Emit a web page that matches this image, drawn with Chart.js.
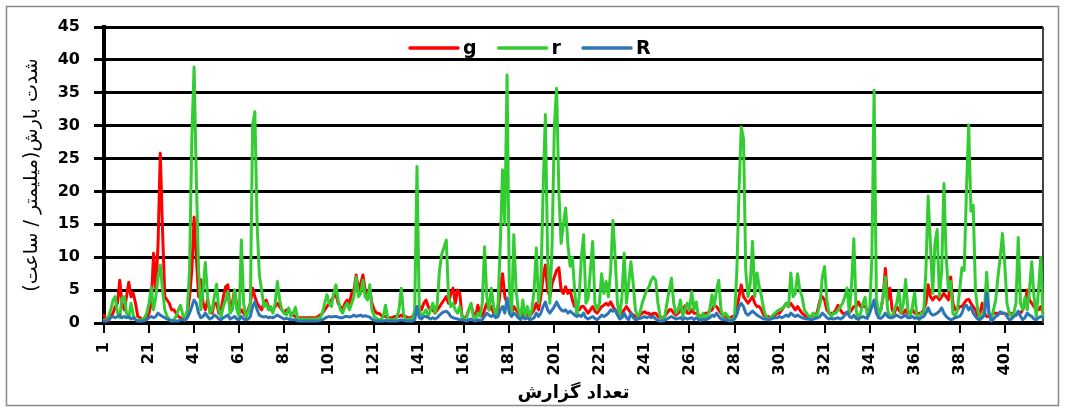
<!DOCTYPE html>
<html>
<head>
<meta charset="utf-8">
<script src="https://cdn.jsdelivr.net/npm/chart.js@4.4.1/dist/chart.umd.min.js"></script>
<style>
  html, body { margin: 0; padding: 0; background: #fff; }
</style>
</head>
<body>
<canvas id="rainChart" width="1065" height="410"></canvas>
<script>
// report numbers on the x axis (1..418), a label every 20th report
const reports = Array.from({ length: 418 }, (_, i) => String(i + 1));
const labelStep = 20;

// rainfall intensity (mm / h)
const gValues = [
  1.2,0.5,0.3,1.0,1.5,2.5,3.0,6.5,3.0,2.0, 4.0,6.2,4.0,4.5,3.0,1.0,0.8,0.5,0.5,0.6,
  1.5,3.0,10.6,5.0,12.0,25.8,14.0,4.0,3.5,3.0, 2.0,2.0,1.5,1.0,0.8,0.5,0.8,1.5,4.0,8.0,
  16.1,10.0,4.0,6.6,3.0,2.0,3.5,2.0,1.5,3.0, 3.0,1.5,2.0,4.0,5.5,5.8,2.0,3.0,5.0,2.5,
  1.5,2.0,1.5,1.0,2.0,3.0,5.3,4.0,3.0,2.5, 2.0,3.0,3.5,2.5,2.0,2.0,2.5,3.0,2.5,2.0,
  1.5,2.0,1.8,1.5,1.2,1.0,0.8,0.8,0.8,0.8, 0.8,0.8,0.8,0.8,0.8,1.0,1.2,1.5,2.0,2.5,
  3.0,3.5,4.0,4.3,3.0,2.5,2.0,3.0,3.5,3.0, 4.5,5.0,7.3,5.0,6.0,7.3,5.0,4.0,5.0,3.0,
  2.0,1.5,1.5,1.2,1.0,1.0,0.8,0.8,0.8,1.0, 1.0,1.0,1.2,1.0,1.0,0.8,0.8,1.0,1.5,2.0,
  2.5,2.0,3.0,3.5,2.5,2.0,2.0,1.5,2.0,2.5, 3.0,3.5,4.0,3.0,4.5,5.3,3.0,5.0,4.5,1.0,
  0.8,1.0,2.0,2.7,1.5,1.0,2.7,1.5,1.0,2.0, 3.0,2.0,2.5,1.5,1.0,2.0,5.0,7.5,4.0,3.0,
  2.0,1.5,2.5,2.0,1.5,1.0,1.5,1.0,1.5,1.0, 1.5,2.0,3.0,2.0,4.0,7.0,8.8,5.0,4.0,6.0,
  7.0,8.0,8.4,5.0,4.5,5.5,4.5,5.0,3.5,2.5, 2.5,2.0,2.5,2.5,2.0,1.5,2.0,2.5,1.8,1.5,
  2.0,2.5,2.7,3.0,2.7,3.2,2.5,2.0,1.5,1.2, 1.5,2.0,2.5,2.0,1.5,1.2,1.0,1.0,1.2,1.5,
  1.7,1.5,1.5,1.2,1.5,1.5,1.0,0.8,0.8,1.0, 1.5,2.0,2.0,1.5,1.2,1.5,2.0,1.5,2.6,1.5,
  1.5,2.0,1.5,1.5,1.2,1.0,1.2,1.5,1.5,1.8, 2.0,2.7,2.5,2.0,1.5,1.0,1.0,0.8,0.8,1.0,
  1.0,2.0,4.0,5.8,4.0,3.5,3.0,3.5,4.0,3.0, 2.5,2.5,2.0,1.2,1.0,1.0,0.8,1.0,1.2,1.5,
  1.5,2.0,2.5,3.0,2.5,3.0,2.5,2.0,2.5,2.0, 1.5,1.2,1.0,1.0,1.0,1.2,1.0,2.0,3.5,4.0,
  3.5,2.0,1.5,1.5,1.5,2.0,2.7,2.0,1.5,1.5, 1.5,1.5,2.0,2.5,2.5,3.2,2.5,2.5,2.5,2.0,
  2.0,2.5,3.0,2.0,2.0,2.0,4.0,8.3,3.5,5.3, 2.0,1.5,2.5,2.0,1.5,1.5,2.0,1.5,1.5,2.0,
  1.5,1.5,1.5,1.5,2.0,3.0,5.8,4.0,3.5,4.0, 4.0,3.5,4.0,4.5,4.0,3.5,7.0,3.0,2.0,2.0,
  2.5,2.5,3.0,3.5,3.6,3.0,2.5,2.0,1.0,1.5, 3.0,1.5,1.0,1.0,1.2,1.5,1.5,1.5,1.5,1.5,
  1.5,1.2,1.5,1.5,1.2,1.2,1.5,1.5,2.0,3.0, 5.0,3.5,3.0,2.5,2.0,2.0,2.5,1.5
];

const rValues = [
  0.5,0.3,1.0,2.0,3.5,4.0,1.5,0.8,3.8,4.0, 1.5,0.8,3.0,1.2,0.5,0.3,0.5,0.5,0.8,1.5,
  3.0,5.4,2.0,4.0,7.0,8.8,5.0,2.0,1.0,0.5, 0.3,0.5,1.0,2.0,2.7,1.2,0.8,2.0,8.0,28.0,
  38.9,22.0,8.0,2.0,5.0,9.2,4.0,1.5,2.0,4.0, 5.9,2.0,1.0,2.5,3.5,4.8,1.5,2.0,5.0,2.0,
  1.0,12.6,3.0,1.0,1.5,3.0,30.0,32.1,15.0,7.3, 5.0,2.5,3.0,2.0,2.5,1.5,3.0,6.3,3.5,2.0,
  1.5,1.2,2.3,1.0,1.5,2.4,0.7,0.6,0.6,0.6, 0.6,0.6,0.6,0.6,0.6,0.7,0.8,1.5,3.0,4.3,
  3.0,2.5,4.5,5.8,3.5,2.0,1.5,2.5,3.0,2.0, 3.0,4.0,7.0,4.0,4.5,6.5,4.0,3.5,5.8,2.0,
  1.0,0.7,0.5,0.5,1.0,2.7,0.8,0.5,0.5,0.5, 0.8,2.0,5.3,1.5,0.5,0.5,0.6,0.5,2.0,23.8,
  2.0,1.0,1.5,2.0,1.0,2.0,3.0,1.5,3.0,8.0, 10.5,11.5,12.6,4.0,2.5,3.0,2.0,1.5,2.5,1.0,
  0.5,0.8,2.0,3.0,1.0,0.7,1.5,1.0,3.0,11.6, 4.0,2.0,5.3,2.5,1.0,3.0,12.0,23.3,15.0,37.7,
  5.0,1.5,13.4,5.0,2.0,1.0,3.5,1.0,2.5,1.0, 2.0,5.0,11.4,3.0,6.0,20.0,31.7,10.0,3.0,12.0,
  30.0,35.7,20.0,12.1,15.0,17.5,12.0,8.6,10.0,5.0, 1.0,4.0,10.0,13.4,3.0,3.7,8.0,12.4,3.0,2.0,
  3.0,7.5,4.5,6.3,4.0,8.0,15.6,10.0,3.0,1.0, 4.0,10.6,3.0,6.0,9.3,6.0,2.0,1.0,1.5,3.0,
  4.0,5.0,5.5,6.5,7.0,6.5,3.0,1.0,0.5,1.0, 3.0,5.0,6.8,3.0,1.5,2.0,3.5,1.0,2.0,3.0,
  2.0,4.8,2.0,3.2,1.0,0.5,1.5,0.8,1.0,2.0, 4.3,2.5,5.0,6.5,2.0,1.0,1.5,1.0,0.5,0.3,
  1.0,7.5,20.0,29.8,28.0,8.0,4.0,6.0,12.4,4.0, 7.6,5.5,4.0,2.0,1.0,0.5,0.8,1.2,1.5,1.8,
  2.0,2.2,2.5,3.0,2.5,7.6,4.0,4.5,7.5,5.0, 4.0,2.0,1.5,1.0,1.0,1.5,0.8,1.5,3.0,7.0,
  8.6,3.5,1.5,1.0,1.5,1.5,2.0,2.5,3.0,4.0, 5.3,1.5,6.0,12.8,2.0,0.5,1.5,3.0,3.9,1.0,
  1.5,10.0,35.4,4.0,1.0,2.0,4.0,7.0,2.0,1.0, 1.0,2.0,3.0,4.9,1.5,3.0,6.6,2.0,1.0,2.5,
  4.6,1.0,0.5,1.5,1.5,8.0,19.3,12.0,4.5,12.0, 14.2,4.0,8.0,21.2,10.0,5.0,6.3,1.5,1.0,2.0,
  5.0,8.4,8.0,20.0,30.1,17.0,17.9,5.0,2.0,0.8, 1.0,2.0,7.7,1.5,0.5,2.0,3.5,7.0,10.0,13.6,
  9.0,3.0,1.5,1.0,1.5,3.0,13.0,3.0,2.0,3.9, 2.0,5.0,9.3,4.0,1.0,5.0,10.0,1.0
];

const RValues = [
  0.3,0.3,0.5,0.8,1.0,0.8,1.0,1.2,0.8,1.0, 0.8,1.0,0.6,0.8,0.5,0.3,0.3,0.3,0.4,0.5,
  0.8,1.0,0.8,1.0,1.5,1.2,1.0,0.8,0.6,0.5, 0.4,0.3,0.3,0.3,0.5,0.5,0.4,0.8,1.5,2.5,
  3.5,3.0,1.5,0.8,1.0,1.5,1.0,0.6,0.8,1.2, 1.0,0.6,0.5,0.8,1.0,1.2,0.6,0.8,1.0,0.6,
  0.5,1.0,0.6,0.5,0.6,1.0,2.5,3.2,2.0,1.2, 1.0,0.9,1.0,0.8,0.9,0.8,1.0,1.2,1.0,0.8,
  0.6,0.7,0.6,0.5,0.5,0.5,0.3,0.3,0.3,0.3, 0.3,0.3,0.3,0.3,0.3,0.3,0.4,0.5,0.7,0.9,
  1.0,0.9,1.0,1.0,0.9,0.8,0.8,1.0,1.0,0.9, 1.0,1.2,1.0,1.1,1.2,1.0,1.1,1.0,0.9,0.6,
  0.4,0.3,0.3,0.3,0.3,0.4,0.3,0.3,0.3,0.3, 0.3,0.4,0.5,0.4,0.3,0.3,0.3,0.3,0.5,2.5,
  0.8,0.6,1.0,1.0,0.8,0.6,0.8,0.6,0.8,1.2, 1.5,1.7,1.8,1.5,1.0,0.8,0.7,0.6,0.5,0.5,
  0.4,0.3,0.5,0.6,0.4,0.3,0.5,0.4,0.5,1.0, 1.5,1.2,1.0,1.2,0.8,1.0,2.0,2.5,1.5,3.8,
  1.5,1.0,1.5,1.2,0.8,0.5,1.0,0.6,0.8,0.5, 0.6,0.8,1.5,1.0,1.5,2.5,3.2,2.0,1.5,2.0,
  2.5,3.2,2.5,2.0,1.8,2.0,1.5,1.8,1.5,1.2, 1.0,1.2,1.0,1.5,0.8,0.6,0.8,1.0,0.7,0.5,
  0.8,1.2,1.0,1.2,1.5,2.0,1.8,2.0,1.2,0.6, 0.8,1.5,0.8,0.5,1.5,0.8,0.5,0.6,0.7,0.8,
  1.0,0.8,1.0,0.8,1.0,0.6,0.4,0.3,0.3,0.4, 0.6,0.8,1.0,0.8,0.6,0.7,0.8,0.5,0.8,0.6,
  0.7,0.8,0.5,0.8,0.5,0.4,0.6,0.5,0.6,0.8, 1.2,1.0,1.5,1.0,0.6,0.5,0.5,0.4,0.3,0.4,
  0.6,1.2,2.5,3.0,2.5,1.5,1.2,1.5,1.8,1.5, 1.2,1.0,0.8,0.6,0.6,0.5,0.6,0.7,0.8,0.8,
  1.0,0.8,1.0,1.2,1.0,1.5,1.2,1.0,1.2,1.0, 0.8,0.7,0.6,0.6,0.5,0.6,0.7,0.8,1.0,1.5,
  1.2,0.8,0.6,0.7,0.6,0.7,0.8,0.6,0.8,1.2, 1.7,1.0,0.8,1.2,0.7,0.6,0.8,1.0,0.8,0.7,
  1.5,2.5,3.5,1.5,0.8,0.7,1.0,1.5,1.0,0.8, 0.8,1.0,1.2,1.0,0.8,1.0,1.2,0.8,0.8,1.0,
  0.7,0.8,0.6,0.8,1.0,1.5,2.3,1.5,1.2,1.3, 1.5,1.8,2.3,1.5,1.0,0.7,0.5,0.6,0.8,0.9,
  1.0,1.5,2.5,2.7,2.0,2.5,1.5,1.0,0.6,0.5, 0.8,1.2,4.6,1.5,0.3,0.6,1.0,1.2,1.7,1.5,
  1.5,1.0,0.5,0.6,1.0,1.2,1.8,1.0,0.5,0.8, 1.5,1.2,1.0,0.6,0.5,0.8,1.0,0.8
];

const yTicks = { min: 0, max: 45, step: 5 };

Chart.defaults.font.family = "'DejaVu Sans', sans-serif";
Chart.defaults.color = '#000';

// white background, grey outer frame and the right edge of the plot box
const framePlugin = {
  id: 'frame',
  beforeDraw(chart) {
    const ctx = chart.ctx;
    ctx.save();
    ctx.fillStyle = '#fff';
    ctx.fillRect(0, 0, chart.width, chart.height);
    ctx.strokeStyle = '#8a8a8a';
    ctx.lineWidth = 1.5;
    ctx.strokeRect(6.5, 6.5, chart.width - 13, chart.height - 11);
    ctx.restore();
  },
  beforeDatasetsDraw(chart) {
    const { ctx, chartArea } = chart;
    ctx.save();
    ctx.strokeStyle = '#444';
    ctx.lineWidth = 2;
    ctx.beginPath();
    ctx.moveTo(chartArea.right, chartArea.top);
    ctx.lineTo(chartArea.right, chartArea.bottom);
    ctx.stroke();
    ctx.restore();
  }
};

// x labels turned a quarter turn, reading upward, top end near the axis
const xLabelPlugin = {
  id: 'xLabels',
  afterDraw(chart) {
    const { ctx, chartArea } = chart;
    const xScale = chart.scales.x;
    const top = chartArea.bottom + 19;
    ctx.save();
    ctx.fillStyle = '#000';
    ctx.font = "bold 16px 'DejaVu Sans'";
    ctx.textAlign = 'right';
    ctx.textBaseline = 'middle';
    reports.forEach((lab, i) => {
      if (i % labelStep !== 0) return;
      ctx.save();
      ctx.translate(xScale.getPixelForValue(i), top);
      ctx.rotate(-Math.PI / 2);
      ctx.fillText(lab, 0, 0);
      ctx.restore();
    });
    ctx.restore();
  }
};

// legend sits inside the plot, in one row near the top
const legendPlugin = {
  id: 'inLegend',
  afterDatasetsDraw(chart) {
    const { ctx, chartArea } = chart;
    let x = chartArea.left + 306;
    const y = chartArea.top + 21;
    ctx.save();
    ctx.font = "bold 19px 'DejaVu Sans'";
    ctx.textBaseline = 'middle';
    ctx.textAlign = 'left';
    chart.data.datasets.forEach(ds => {
      ctx.strokeStyle = ds.borderColor;
      ctx.lineWidth = 3.5;
      ctx.lineCap = 'round';
      ctx.beginPath();
      ctx.moveTo(x, y);
      ctx.lineTo(x + 48, y);
      ctx.stroke();
      ctx.fillStyle = '#000';
      ctx.fillText(ds.label, x + 53, y + 1);
      x += 53 + ctx.measureText(ds.label).width + 22;
    });
    ctx.restore();
  }
};

function makeSet(label, data, color, order) {
  return {
    label: label,
    data: data,
    borderColor: color,
    backgroundColor: color,
    borderWidth: 3,
    borderCapStyle: 'round',
    borderJoinStyle: 'round',
    pointRadius: 0,
    tension: 0,
    fill: false,
    order: order
  };
}

const tickShown = c => c.index % labelStep === 0 ? '#000' : 'rgba(0,0,0,0)';

new Chart(document.getElementById('rainChart').getContext('2d'), {
  type: 'line',
  data: {
    labels: reports,
    datasets: [
      makeSet('g', gValues, '#ff0000', 3),
      makeSet('r', rValues, '#33cc33', 2),
      makeSet('R', RValues, '#2e75b6', 1)
    ]
  },
  plugins: [framePlugin, xLabelPlugin, legendPlugin],
  options: {
    responsive: false,
    animation: false,
    devicePixelRatio: 1,
    layout: { padding: { top: 27, right: 22, left: 0, bottom: 0 } },
    plugins: {
      tooltip: { enabled: false },
      legend: { display: false }
    },
    scales: {
      x: {
        afterFit: s => { s.height = 87; },
        border: { color: '#000', width: 4 },
        grid: {
          drawOnChartArea: false,
          drawTicks: true,
          tickLength: 10,
          lineWidth: 2,
          color: tickShown,
          tickColor: tickShown
        },
        ticks: { display: false, autoSkip: false },
        title: {
          display: true,
          text: 'تعداد گزارش',
          font: { size: 18, weight: 'bold' },
          padding: { top: 0, bottom: 6 }
        }
      },
      y: {
        min: yTicks.min,
        max: yTicks.max,
        afterFit: s => { s.width = 104; },
        border: { color: '#000', width: 4 },
        grid: {
          color: '#000',
          lineWidth: 3,
          tickLength: 10
        },
        ticks: {
          stepSize: yTicks.step,
          padding: 14,
          font: { size: 16, weight: 'bold' }
        },
        title: {
          display: true,
          text: 'شدت بارش(میلیمتر / ساعت)\u200F',
          font: { size: 19 },
          padding: { top: 21, bottom: 0 }
        }
      }
    }
  }
});
</script>
</body>
</html>
